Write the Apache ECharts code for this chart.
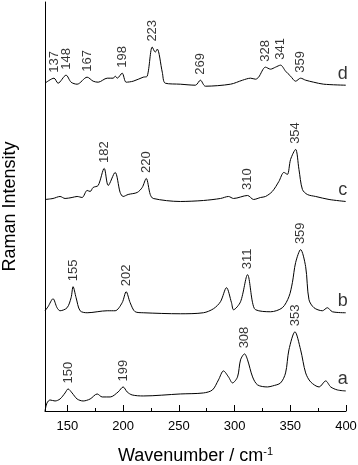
<!DOCTYPE html>
<html>
<head>
<meta charset="utf-8">
<script src="https://cdn.jsdelivr.net/npm/echarts@6/dist/echarts.min.js"></script>
<style>
    html, body { margin: 0; padding: 0; background: #fff; }
    #raman_chart { width: 358px; height: 465px; }
</style>
</head>
<body>
<div id="raman_chart"></div>
<script>
    // spectra: [wavenumber, intensity (arbitrary, offset per trace)]
    const traceA = [
        [130.0, 0], [131.8, 8], [134.5, 11], [139.0, 10], [143.5, 12], [148.0, 18], [150.7, 22],
        [154.3, 18], [158.8, 12], [164.2, 10], [170.5, 12], [176.8, 17], [181.3, 14], [188.5, 14],
        [195.6, 19], [200.1, 24], [203.7, 19], [208.2, 16], [218.1, 15], [251.4, 17], [272.1, 18],
        [280.2, 21], [285.6, 31], [290.1, 40], [294.6, 34], [298.2, 28], [302.7, 34], [305.4, 51],
        [309.0, 57], [311.7, 51], [316.2, 34], [320.7, 26], [329.6, 24], [334.1, 25], [341.3, 28],
        [345.8, 38], [348.8, 61], [354.2, 79], [359.3, 61], [363.8, 38], [368.3, 29], [375.8, 24],
        [381.8, 30], [386.3, 24], [392.3, 21], [399.8, 20]
    ];
    const traceB = [
        [130.0, 100], [132.7, 104], [137.2, 112], [140.8, 103], [143.5, 100], [149.8, 103], [153.4, 113],
        [155.2, 124], [157.9, 113], [161.5, 100], [167.8, 98], [185.8, 100], [192.9, 100], [199.2, 108],
        [202.8, 119], [206.4, 108], [210.9, 99], [218.1, 98], [251.4, 97], [272.1, 98], [281.1, 102],
        [287.4, 109], [292.8, 123], [297.3, 108], [299.1, 101], [305.4, 109], [311.7, 136], [316.2, 108],
        [318.9, 101], [332.3, 99], [342.9, 103], [348.8, 114], [351.9, 128], [354.8, 148], [359.3, 161],
        [363.8, 144], [366.8, 111], [371.3, 103], [378.8, 100], [383.3, 103], [387.8, 99], [399.8, 98]
    ];
    const traceC = [
        [130.0, 211], [137.2, 212], [143.5, 214], [148.0, 212], [154.3, 213], [158.8, 214], [163.3, 213],
        [167.8, 220], [170.5, 219], [173.2, 223], [177.7, 225], [183.1, 242], [186.7, 225], [192.9, 238],
        [197.4, 218], [200.1, 214], [204.6, 216], [212.7, 218], [217.2, 223], [220.8, 232], [224.4, 216],
        [227.1, 212], [251.4, 209], [272.1, 210], [287.4, 212], [294.6, 214], [299.1, 212], [311.7, 215],
        [317.1, 211], [323.4, 213], [327.8, 214], [333.9, 219], [339.8, 229], [344.3, 238], [347.4, 236],
        [350.3, 251], [354.8, 261], [357.8, 241], [360.9, 221], [365.3, 216], [372.8, 214], [384.8, 211],
        [399.8, 209]
    ];
    const traceD = [
        [130.0, 327], [138.1, 332], [141.7, 327], [148.9, 335], [153.4, 328], [158.8, 326], [167.8, 333],
        [173.2, 329], [177.7, 328], [185.8, 332], [191.2, 332], [193.0, 334], [194.8, 332], [199.2, 337],
        [202.8, 328], [209.1, 329], [218.1, 333], [221.7, 334], [226.2, 363], [228.9, 358], [230.7, 361],
        [235.2, 338], [237.9, 327], [251.4, 326], [264.9, 325], [269.4, 330], [273.9, 324], [296.4, 326],
        [307.2, 330], [314.4, 332], [318.9, 331], [321.6, 333], [327.8, 343], [332.3, 341], [336.8, 343],
        [341.3, 345], [345.8, 339], [350.3, 334], [354.8, 329], [359.3, 332], [363.8, 330], [371.0, 328],
        [380.0, 326], [399.8, 325]
    ];

    const peaksA = [150, 199, 308, 353];
    const peaksB = [155, 202, 311, 359];
    const peaksC = [182, 220, 310, 354];
    const peaksD = [137, 148, 167, 198, 223, 269, 328, 341, 359];

    const traceNames = ['a', 'b', 'c', 'd'];
    const xMajorTicks = [150, 200, 250, 300, 350, 400];
    const xMinorTicks = [175, 225, 275, 325, 375];

    const traces = [traceA, traceB, traceC, traceD];
    const peaks = [peaksA, peaksB, peaksC, peaksD];
    const font = 'Liberation Sans';

    // find the highest point of a trace close to a labelled wavenumber
    function peakPoint(trace, w) {
        let best = null;
        trace.forEach(function (p) {
            if (Math.abs(p[0] - w) <= 4 && (!best || p[1] > best[1])) best = p;
        });
        return best;
    }

    let series = [];
    traces.forEach(function (trace, i) {
        series.push({
            type: 'line',
            data: trace,
            showSymbol: false,
            smooth: 0.3,
            lineStyle: {color: '#000', width: 1},
            silent: true
        });
        series.push({
            type: 'scatter',
            data: peaks[i].map(function (w) {
                let p = peakPoint(trace, w);
                return {value: [p[0], p[1]], name: String(w)};
            }),
            symbolSize: 1,
            itemStyle: {color: 'rgba(0,0,0,0)'},
            label: {
                show: true,
                formatter: '{b}',
                position: 'top',
                distance: 5,
                rotate: 90,
                align: 'left',
                verticalAlign: 'middle',
                color: '#000',
                fontFamily: font,
                fontSize: 13
            },
            silent: true
        });
        series.push({
            type: 'scatter',
            data: [{value: trace[trace.length - 1], name: traceNames[i]}],
            symbolSize: 1,
            itemStyle: {color: 'rgba(0,0,0,0)'},
            label: {
                show: true,
                formatter: '{b}',
                position: 'top',
                distance: 2,
                offset: [-3, 0],
                color: '#000',
                fontFamily: font,
                fontSize: 18
            },
            silent: true
        });
    });

    let chart = echarts.init(document.getElementById('raman_chart'));
    chart.setOption({
        animation: false,
        grid: {left: 45, right: 12, top: 2, bottom: 54, containLabel: false, outerBoundsMode: 'none'},
        xAxis: [{
            type: 'value',
            min: 130,
            max: 400,
            name: 'Wavenumber / cm{sup|-1}',
            nameLocation: 'middle',
            nameGap: 35,
            nameTextStyle: {
                color: '#000', fontFamily: font, fontSize: 18,
                rich: {sup: {fontFamily: font, fontSize: 11, padding: [0, 0, 10, 0]}}
            },
            axisLine: {lineStyle: {color: '#000', width: 1}},
            axisTick: {inside: true, length: 6, customValues: xMajorTicks, lineStyle: {color: '#000'}},
            axisLabel: {customValues: xMajorTicks, margin: 9, color: '#000', fontFamily: font, fontSize: 13},
            splitLine: {show: false}
        }, {
            type: 'value',
            min: 130,
            max: 400,
            position: 'bottom',
            axisLine: {show: false},
            axisTick: {inside: true, length: 3, customValues: xMinorTicks, lineStyle: {color: '#000'}},
            axisLabel: {show: false},
            splitLine: {show: false}
        }],
        yAxis: {
            type: 'value',
            min: 0,
            max: 408,
            name: 'Raman Intensity',
            nameLocation: 'middle',
            nameGap: 26,
            nameTextStyle: {color: '#000', fontFamily: font, fontSize: 18},
            axisLine: {show: true, lineStyle: {color: '#000', width: 1}},
            axisTick: {show: false},
            axisLabel: {show: false},
            splitLine: {show: false}
        },
        series: series
    });
</script>
</body>
</html>
